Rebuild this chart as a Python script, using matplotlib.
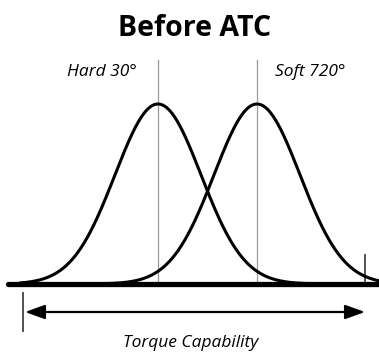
import numpy as np
import matplotlib.pyplot as plt

# torque distributions for the two joint types
joint_labels = ['Hard 30°', 'Soft 720°']
peak_torque = [158, 257]
spread = [43, 43]
peak_height = [180, 180]

range_start = 23
range_end = 365


def bell(x, mu, sigma, h):
    return h * np.exp(-0.5 * ((x - mu) / sigma) ** 2)


fig = plt.figure(figsize=(3.79, 3.56), dpi=100)
ax = fig.add_axes([0, 0, 1, 1])
ax.set_xlim(0, 379)
ax.set_ylim(-72, 284)
ax.axis('off')

font = 'Open Sans'

x = np.linspace(20, 379, 600)
for mu, s, h in zip(peak_torque, spread, peak_height):
    ax.plot(x, bell(x, mu, s, h), color='black', lw=2.2, solid_capstyle='round', zorder=3)
    ax.plot([mu, mu], [0, 224], color='#999999', lw=0.9, zorder=2)

# baseline
ax.plot([8, 379], [0, 0], color='black', lw=3.8, solid_capstyle='round', zorder=4)

# range markers
ax.plot([range_end, range_end], [0, 29], color='#444444', lw=1.3, zorder=2)
ax.plot([range_start, range_start], [-9, -47], color='#444444', lw=1.3)
ax.annotate('', xy=(range_start + 2, -28), xytext=(range_end, -28),
            arrowprops=dict(arrowstyle='<|-|>,head_length=1.0,head_width=0.36',
                            color='black', lw=1.6,
                            mutation_scale=12, shrinkA=0, shrinkB=0))

ax.text(102, 212, joint_labels[0], ha='center', va='center', fontsize=12.5,
        style='italic', family=font, fontweight='medium')
ax.text(310, 212, joint_labels[1], ha='center', va='center', fontsize=12.5,
        style='italic', family=font, fontweight='medium')
ax.text(191, -59, 'Torque Capability', ha='center', va='center', fontsize=12.5,
        style='italic', family=font, fontweight='medium')
ax.text(195, 255, 'Before ATC', ha='center', va='center', fontsize=20.5,
        fontweight='bold', family=font)

fig.savefig('out.png', dpi=100)
